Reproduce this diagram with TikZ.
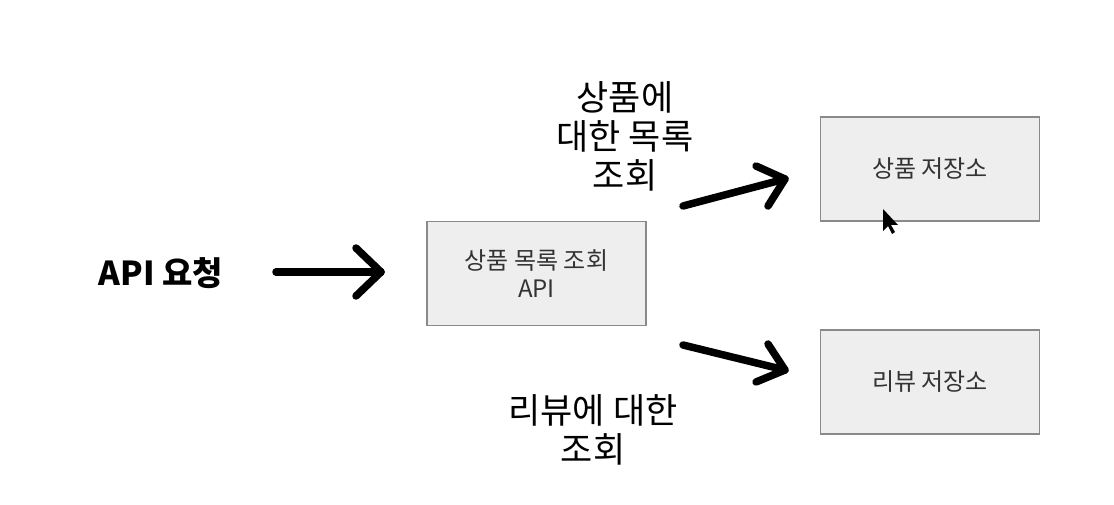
\documentclass[tikz,border=0pt]{standalone}
\usepackage{fontspec}
\setmainfont{Noto Sans CJK KR}
\newfontfamily\kr{Noto Sans CJK KR}
\definecolor{boxfill}{HTML}{EEEEEE}
\definecolor{boxline}{HTML}{8A8A8A}
\definecolor{boxtext}{HTML}{333333}
\begin{document}
\begin{tikzpicture}[x=1pt,y=-1pt,
  store/.style={draw=boxline,fill=boxfill,line width=1.3pt,minimum width=219pt,minimum height=104pt,inner sep=0pt,align=center,text=boxtext,font=\kr\fontsize{24}{28}\selectfont},
  label/.style={align=center,font=\kr\fontsize{35}{39}\selectfont,inner sep=0pt},
  bigarrow/.style={line width=7.5pt,line cap=round,line join=round}]
\useasboundingbox (0,0) rectangle (1114,505);
\node[store] (api) at (536.5,273.5) {상품 목록 조회\\API};
\node[store] (prod) at (930,169) {상품 저장소};
\node[store] (rev) at (930,382) {리뷰 저장소};
\node[font=\kr\bfseries\fontsize{33}{38}\selectfont,inner sep=0pt] (req) at (161,273) {API 요청};
\node[label] (l1) at (625,136) {상품에\\대한 목록\\조회};
\node[label] (l2) at (593,430) {리뷰에 대한\\조회};
% arrow 1
\coordinate (a1s) at (276,272);
\coordinate (a1t) at (381,272);
\draw[bigarrow] (a1s) -- (a1t);
\draw[bigarrow] (356,248) -- (a1t) -- (356,296);
% arrow 2
\coordinate (a2s) at (683,206);
\coordinate (a2t) at (785,179);
\draw[bigarrow] (a2s) -- (a2t);
\draw[bigarrow] (756,166) -- (a2t) -- (768,206);
% arrow 3
\coordinate (a3s) at (683,345);
\coordinate (a3t) at (785,370);
\draw[bigarrow] (a3s) -- (a3t);
\draw[bigarrow] (768,344) -- (a3t) -- (756,382);
% cursor
\fill[black] (883,209) -- (883,231) -- (888,226) -- (892,234) -- (895,232) -- (891,225) -- (898,225) -- cycle;
\end{tikzpicture}
\end{document}
